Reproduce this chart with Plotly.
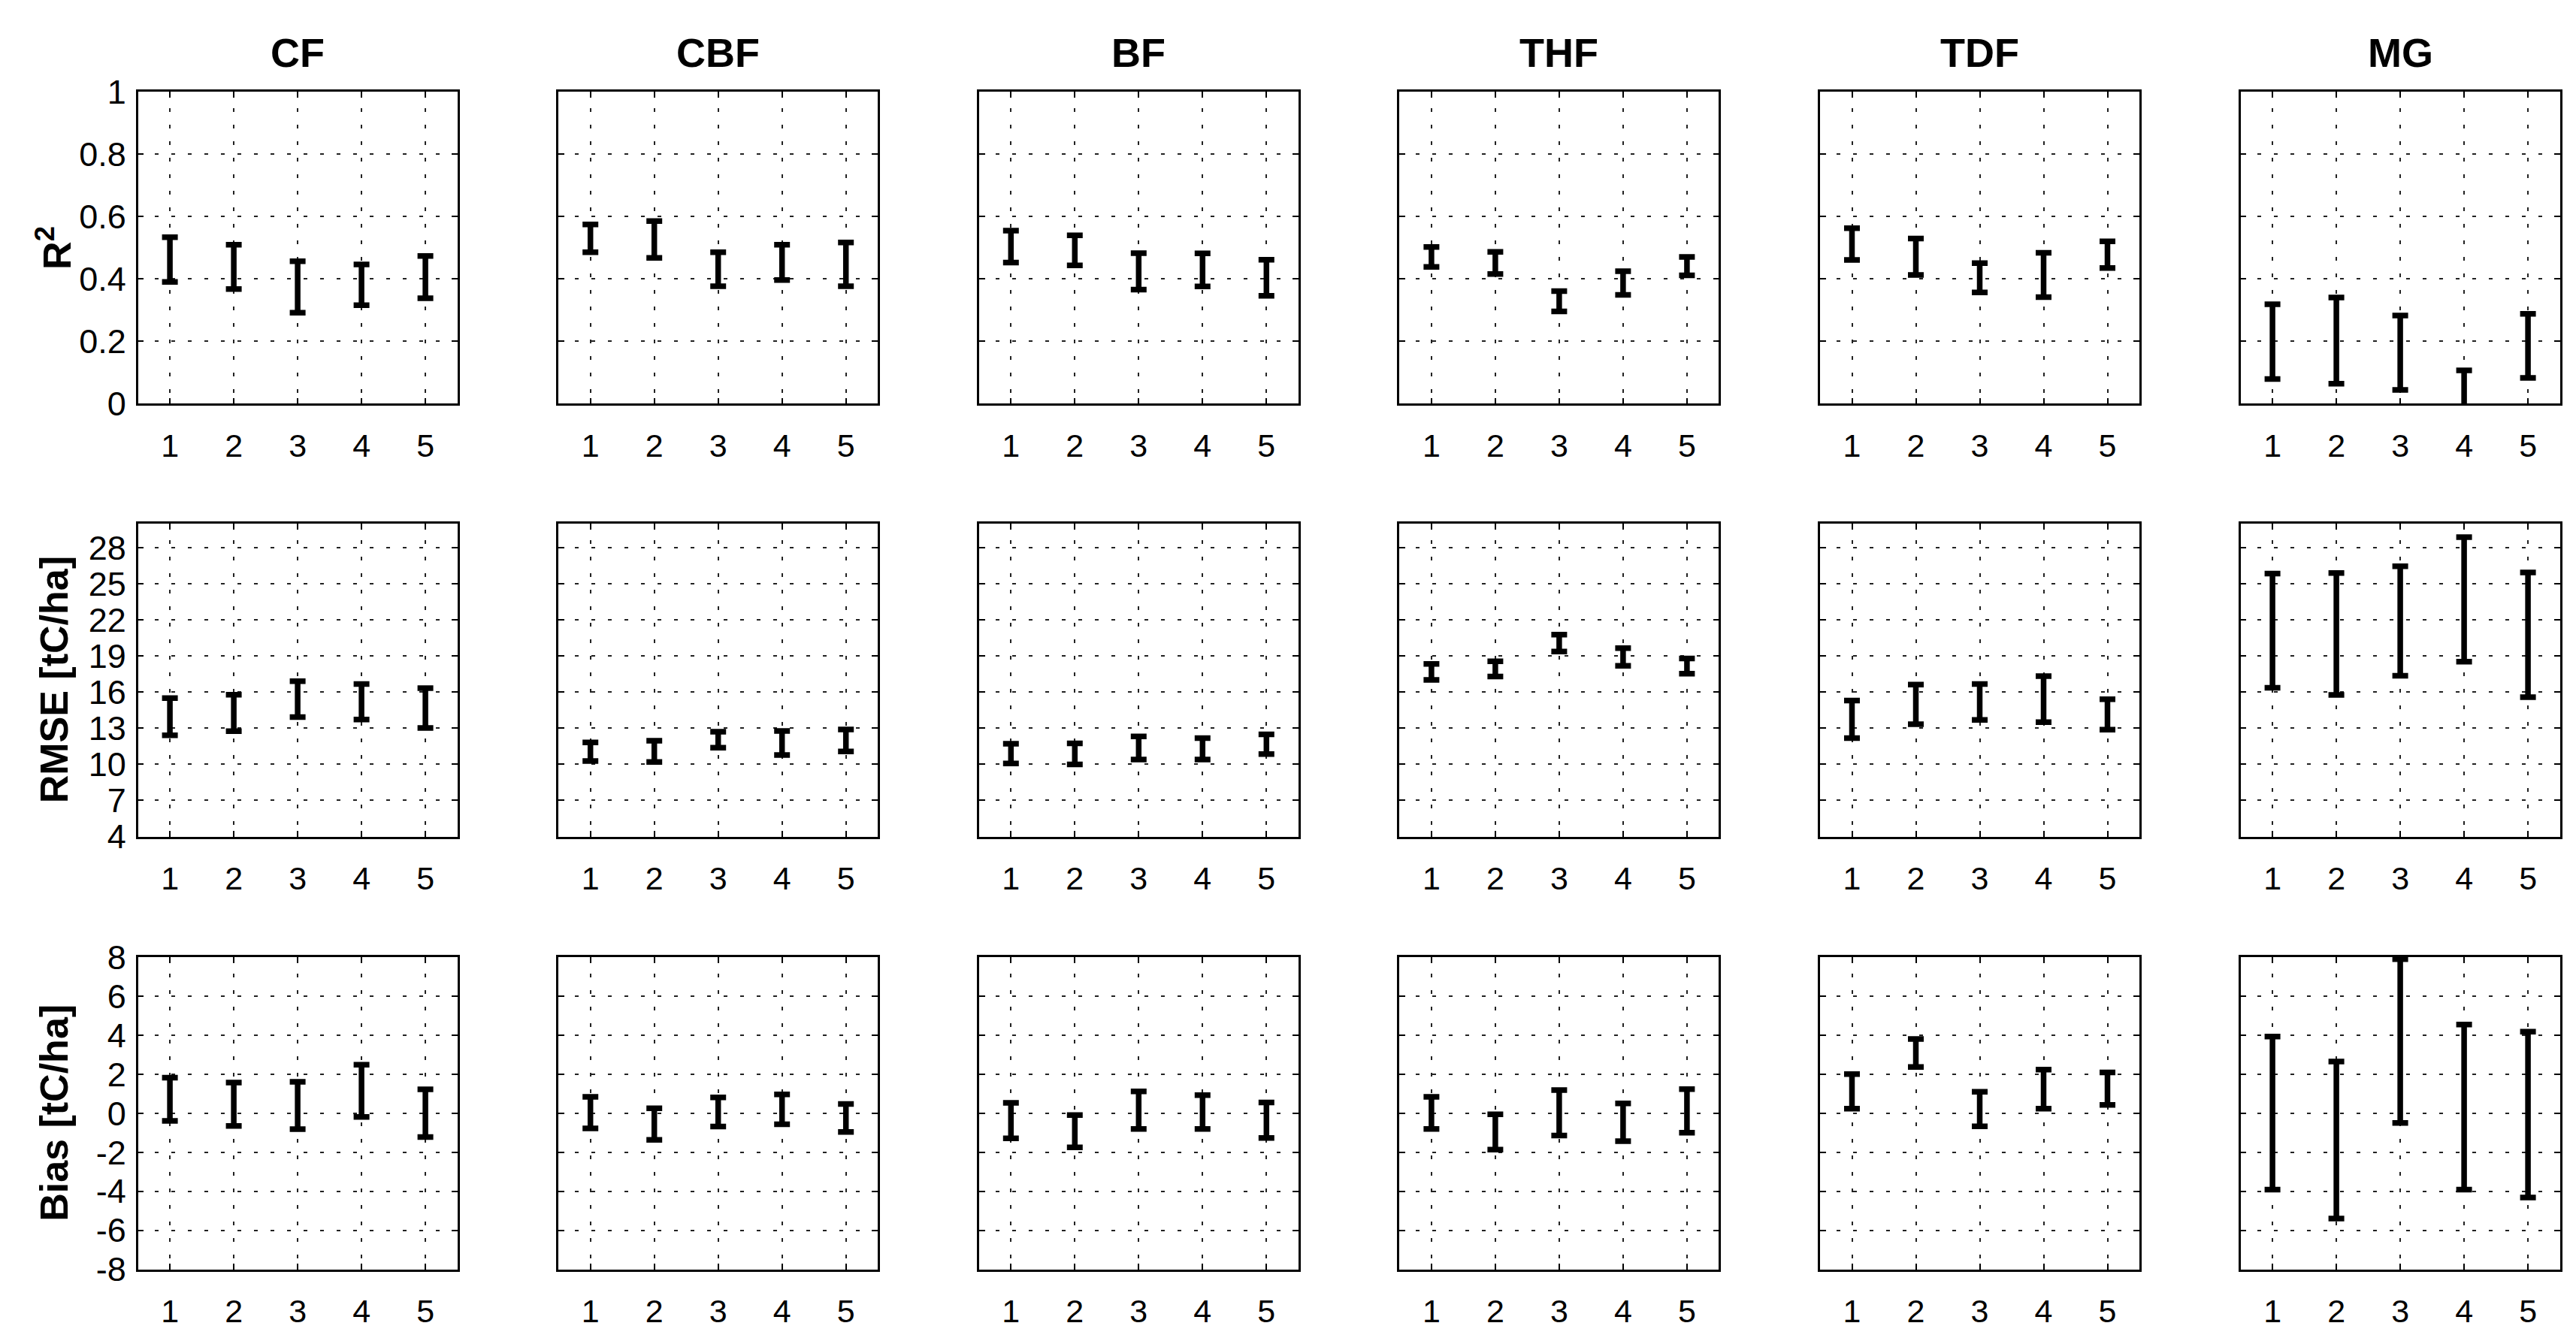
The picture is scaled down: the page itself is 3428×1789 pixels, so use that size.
import plotly.graph_objects as go

forest_types = ["CF", "CBF", "BF", "THF", "TDF", "MG"]
runs = [1, 2, 3, 4, 5]
metric_labels = ["R<sup>2</sup>", "RMSE [tC/ha]", "Bias [tC/ha]"]

# R^2 interval bounds (rows: CF, CBF, BF, THF, TDF, MG)
r2_lower = [
    [0.391, 0.368, 0.292, 0.316, 0.338],
    [0.486, 0.468, 0.377, 0.397, 0.377],
    [0.453, 0.444, 0.366, 0.376, 0.346],
    [0.439, 0.416, 0.296, 0.349, 0.412],
    [0.461, 0.413, 0.357, 0.342, 0.435],
    [0.079, 0.064, 0.044, -0.030, 0.083],
]
r2_upper = [
    [0.534, 0.510, 0.457, 0.447, 0.474],
    [0.575, 0.586, 0.486, 0.510, 0.517],
    [0.555, 0.540, 0.483, 0.482, 0.462],
    [0.503, 0.487, 0.361, 0.425, 0.471],
    [0.563, 0.530, 0.451, 0.484, 0.521],
    [0.319, 0.341, 0.283, 0.107, 0.288],
]

# RMSE interval bounds [tC/ha]
rmse_lower = [
    [12.41, 12.76, 13.93, 13.72, 13.02],
    [10.27, 10.20, 11.39, 10.78, 11.08],
    [10.08, 9.99, 10.41, 10.41, 10.85],
    [17.02, 17.30, 19.38, 18.19, 17.54],
    [12.18, 13.34, 13.69, 13.51, 12.88],
    [16.37, 15.77, 17.37, 18.54, 15.58],
]
rmse_upper = [
    [15.51, 15.79, 16.91, 16.67, 16.33],
    [11.83, 11.97, 12.71, 12.78, 12.90],
    [11.71, 11.74, 12.32, 12.18, 12.50],
    [18.35, 18.56, 20.78, 19.66, 18.80],
    [15.30, 16.63, 16.67, 17.33, 15.42],
    [25.85, 25.90, 26.46, 28.88, 25.95],
]

# Bias interval bounds [tC/ha]
bias_lower = [
    [-0.39, -0.65, -0.82, -0.19, -1.22],
    [-0.78, -1.36, -0.68, -0.57, -0.96],
    [-1.29, -1.75, -0.81, -0.81, -1.27],
    [-0.81, -1.86, -1.14, -1.43, -1.00],
    [0.23, 2.37, -0.67, 0.23, 0.43],
    [-3.91, -5.40, -0.50, -3.91, -4.32],
]
bias_upper = [
    [1.82, 1.57, 1.61, 2.48, 1.22],
    [0.84, 0.25, 0.81, 0.96, 0.47],
    [0.53, -0.09, 1.12, 0.93, 0.55],
    [0.84, -0.06, 1.19, 0.50, 1.23],
    [2.00, 3.80, 1.10, 2.23, 2.09],
    [3.93, 2.65, 7.89, 4.54, 4.18],
]

r2_ticks = [0, 0.2, 0.4, 0.6, 0.8, 1]
r2_ticklabels = ["0", "0.2", "0.4", "0.6", "0.8", "1"]
rmse_ticks = [4, 7, 10, 13, 16, 19, 22, 25, 28]
bias_ticks = [-8, -6, -4, -2, 0, 2, 4, 6, 8]

# ---------------------------------------------------------------- layout
W, H = 3428, 1789
FONT = "Liberation Sans, Arial, Helvetica, sans-serif"
col_left0, col_pitch, col_w = 183.6, 559.6, 425.0
rows_px = [(100.3, 527.4), (691.8, 1120.5), (1285.6, 1713.5)]

metrics = [
    (r2_lower, r2_upper, [0, 1], r2_ticks, r2_ticklabels),
    (rmse_lower, rmse_upper, [4, 30], rmse_ticks, [str(t) for t in rmse_ticks]),
    (bias_lower, bias_upper, [-8, 8], bias_ticks, [str(t) for t in bias_ticks]),
]

fig = go.Figure()
layout = dict(
    autosize=True,
    margin=dict(l=0, r=0, t=0, b=0, pad=0),
    paper_bgcolor="white", plot_bgcolor="white",
    showlegend=False,
    font=dict(family=FONT, size=44, color="black"),
)
annotations = []

grid_common = dict(
    showgrid=True, gridcolor="#222222", gridwidth=2, griddash="5px,17px",
    showline=True, linecolor="black", linewidth=2.5, mirror="ticks",
    ticks="inside", ticklen=8, tickwidth=2, tickcolor="black",
    zeroline=False,
)

n = 0
for r, (lo_all, hi_all, yrange, yticks, ytl) in enumerate(metrics):
    top, bot = rows_px[r]
    y0, y1 = 1 - bot / H, 1 - top / H
    for c, ft in enumerate(forest_types):
        n += 1
        sfx = "" if n == 1 else str(n)
        x0 = (col_left0 + c * col_pitch) / W
        x1 = (col_left0 + c * col_pitch + col_w) / W
        layout["xaxis" + sfx] = dict(
            domain=[x0, x1], range=[0.5, 5.5], anchor="y" + sfx,
            tickmode="array", tickvals=runs, ticktext=[str(v) for v in runs],
            tickfont=dict(size=43), ticklabelstandoff=16, **grid_common,
        )
        layout["yaxis" + sfx] = dict(
            domain=[y0, y1], range=yrange, anchor="x" + sfx,
            tickmode="array", tickvals=yticks, ticktext=ytl,
            showticklabels=(c == 0), tickfont=dict(size=45),
            ticklabelstandoff=4, **grid_common,
        )
        lo, hi = lo_all[c], hi_all[c]
        mid = [(a + b) / 2 for a, b in zip(lo, hi)]
        half = [(b - a) / 2 for a, b in zip(lo, hi)]
        fig.add_trace(go.Scatter(
            x=runs, y=mid, mode="markers",
            marker=dict(size=1, color="rgba(0,0,0,0)"),
            error_y=dict(type="data", array=half, symmetric=True,
                         color="black", thickness=7.5, width=10.5),
            xaxis="x" + sfx, yaxis="y" + sfx, hoverinfo="skip",
        ))
        if r == 0:
            annotations.append(dict(
                text="<b>%s</b>" % ft, x=(x0 + x1) / 2, y=1 - 46 / H,
                xref="paper", yref="paper", xanchor="center", yanchor="middle",
                showarrow=False, font=dict(size=54, family=FONT, color="black"),
            ))
    annotations.append(dict(
        text="<b>%s</b>" % metric_labels[r], x=72 / W, y=(y0 + y1) / 2,
        xref="paper", yref="paper", xanchor="center", yanchor="middle",
        textangle=-90, showarrow=False,
        font=dict(size=52, family=FONT, color="black"),
    ))

layout["annotations"] = annotations
fig.update_layout(**layout)

post = (
    "document.documentElement.style.margin='0';"
    "document.documentElement.style.overflow='hidden';"
    "document.body.style.margin='0';"
    "document.body.style.overflow='hidden';"
    "var gd=document.getElementById('{plot_id}');"
    "if(gd){Plotly.Plots.resize(gd);}"
)
fig.write_html(
    "out.html",
    config={"displayModeBar": False, "responsive": True},
    default_width="100vw",
    default_height="100vh",
    post_script=post,
)
